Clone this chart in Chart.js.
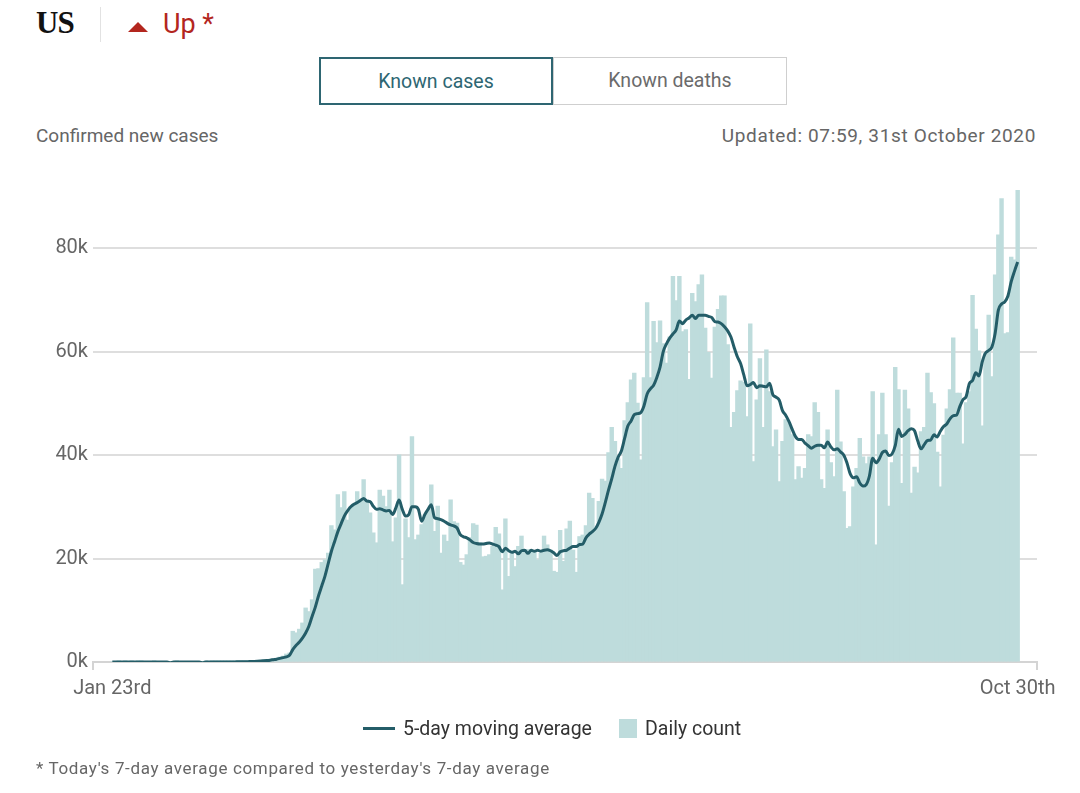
<!DOCTYPE html>
<html>
<head>
<meta charset="utf-8">
<script src="https://cdn.jsdelivr.net/npm/chart.js@4.4.1/dist/chart.umd.min.js"></script>
<style>
  html, body { margin: 0; padding: 0; background: #fff; }
  body { width: 1080px; height: 793px; position: relative; overflow: hidden; font-family: Roboto, "Noto Sans", sans-serif; }
  .abs { position: absolute; white-space: nowrap; }
  #title { left: 36px; top: 4px; font-family: "Liberation Serif", "DejaVu Serif", serif; font-weight: bold; font-size: 31px; line-height: 37px; color: #111; letter-spacing: -1px; }
  #divider { left: 100px; top: 7px; width: 1px; height: 35px; background: #e2e2e2; }
  #tri { left: 128px; top: 22px; width: 0; height: 0; border-left: 10.5px solid transparent; border-right: 10.5px solid transparent; border-bottom: 10px solid #b3261e; }
  #up { left: 163px; top: 9px; font-size: 27px; line-height: 31px; color: #b3261e; }
  .btn { top: 57px; height: 48px; width: 234px; box-sizing: border-box; text-align: center; line-height: 45px; font-size: 19.5px; }
  #btnCases { left: 319px; border: 2px solid #2e6672; color: #2e6672; }
  #btnDeaths { left: 553px; border: 1.5px solid #cfcfcf; color: #6b6b6b; }
  #subtitle { left: 36px; top: 124px; font-size: 19px; line-height: 23px; color: #666; }
  #updated { right: 44px; top: 124px; font-size: 19px; line-height: 23px; color: #666; letter-spacing: 0.65px; }
  #chart { position: absolute; left: 0; top: 0; }
  .legend-text { top: 717px; font-size: 19.5px; line-height: 24px; color: #333; }
  #legLine { left: 363px; top: 727px; width: 32px; height: 3px; background: #245d68; }
  #legBox { left: 619px; top: 719px; width: 18px; height: 19px; background: #bedcdc; }
  #note { left: 36px; top: 758px; font-size: 17px; line-height: 20px; color: #666; letter-spacing: 0.65px; }
</style>
</head>
<body>
<div id="title" class="abs">US</div>
<div id="divider" class="abs"></div>
<div id="tri" class="abs"></div>
<div id="up" class="abs">Up *</div>
<div id="btnCases" class="abs btn">Known cases</div>
<div id="btnDeaths" class="abs btn">Known deaths</div>
<div id="subtitle" class="abs">Confirmed new cases</div>
<div id="updated" class="abs">Updated: 07:59, 31st October 2020</div>
<canvas id="chart" width="1080" height="793"></canvas>
<div id="legLine" class="abs"></div>
<div class="abs legend-text" style="left:403px">5-day moving average</div>
<div id="legBox" class="abs"></div>
<div class="abs legend-text" style="left:645px">Daily count</div>
<div id="note" class="abs">* Today's 7-day average compared to yesterday's 7-day average</div>

<script>
// daily confirmed cases in thousands, one value per day from Jan 23rd to Oct 30th
const dailyCases = [
    0, 0, 0.001, 0, 0.002, 0, 0.001, 0, 0.001, 0.001,
    0, 0, 0, 0.001, 0, 0, 0, 0, 0, 0,
    0.001, 0, 0, 0, 0, 0, 0, 0, 0, 0.002,
    0, 0.004, 0.003, 0.005, 0.01, 0.01, 0.015, 0.02,
    // March
    0.02, 0.03, 0.03, 0.05, 0.03, 0.07, 0.1, 0.12, 0.25, 0.4, 0.3, 0.5, 0.6, 0.7, 0.9, 1.1, 1.5, 1.7,
    5.9, 5.6, 6.3, 7.5, 10.4, 9.7, 12.0, 17.9, 18.0, 19.2, 19.7, 21.0, 26.3, 25.5, 32.3, 29.8,
    32.9, 27.4, 30.0, 30.5, 32.9, 31.3, 35.2, 31.3, 28.8, 24.9, 23.0, 33.2, 32.0, 30.0, 33.2, 23.2,
    // late April - May
    27.8, 40.0, 14.9, 27.6, 24.0, 43.5, 23.6, 24.5, 26.5, 28.4, 29.0, 34.2, 25.2, 30.1, 21.0, 24.5,
    23.3, 31.3, 27.1, 26.8, 19.2, 18.7, 20.7, 24.0, 26.7, 26.4, 23.0, 20.3, 20.4, 20.7, 22.3, 26.0,
    24.7, 13.9, 27.6, 16.5, 21.1, 18.4, 22.3,
    // June
    24.3, 21.6, 21.7, 21.6, 21.5, 19.7, 21.0, 24.3, 22.6, 21.6, 17.5, 17.3, 25.4, 19.4, 25.7, 27.2,
    21.6, 17.3, 24.2, 24.5, 26.3, 32.6, 31.6, 25.5, 31.0, 35.3, 34.9, 40.4, 45.3, 42.6, 39.2, 37.4,
    // July - August
    46.6, 50.1, 54.5, 55.8, 50.0, 39.0, 54.9, 69.4, 54.9, 65.8,
    61.7, 65.9, 61.5, 57.7, 62.8, 74.5, 69.8, 74.5, 63.8, 64.2,
    54.6, 71.2, 69.6, 72.9, 74.8, 64.5, 59.8, 54.8, 64.7, 68.1,
    70.7, 70.7, 61.3, 45.3, 48.2, 52.4, 54.3, 54.0, 47.4, 65.3,
    38.7, 50.6, 58.6, 45.3, 60.3, 52.2, 41.6, 44.8, 34.8, 42.6,
    46.8, 46.0, 43.9, 35.2, 37.7, 35.5, 37.4,
    // late August - September
    43.9, 43.5, 50.1, 48.2, 35.2, 33.5, 44.8, 38.5, 35.8, 52.5,
    42.5, 32.9, 25.8, 26.1, 33.8, 37.4, 43.2, 39.6, 38.3, 39.6,
    52.2, 22.6, 43.9, 51.9, 43.9, 30.1, 38.5, 56.9, 52.6, 34.5,
    52.5, 48.9, 32.6, 37.6, 36.5, 44.5, 45.3, 55.8, 52.0,
    // October
    49.9, 40.5, 33.8, 43.8, 48.9, 52.6, 62.6, 51.9, 51.9, 42.1,
    50.1, 52.2, 70.8, 64.3, 60.1, 45.6, 59.7, 67.0, 55.1, 74.8,
    82.5, 89.5, 63.4, 63.6, 78.2, 77.7, 91.1
];

// 5-day moving average in thousands, same days
const movingAverage = [
    0, 0, 0, 0, 0, 0, 0, 0, 0, 0,
    0, 0, 0, 0, 0, 0, 0, 0, -0.15, 0,
    0, 0, 0, 0, 0, 0, 0, 0, -0.15, 0,
    0, 0, 0, 0, 0, 0.01, 0.01, 0.02,
    0.02, 0.03, 0.04, 0.05, 0.06, 0.08, 0.1, 0.13, 0.17, 0.22, 0.28, 0.35, 0.45, 0.55, 0.7, 0.85, 1.0, 1.3,
    2.4, 3.2, 3.8, 4.6, 5.6, 6.9, 8.8, 10.6, 12.8, 14.7,
    16.6, 19.0, 21.4, 23.3, 25.2, 26.7, 28.2, 29.2, 30.0, 30.5,
    30.8, 31.2, 31.6, 31.1, 31.0, 30.1, 29.5, 29.6, 29.4, 29.2,
    29.3, 28.5, 29.8, 31.3, 29.5, 28.2, 28.5, 30.0, 30.0, 29.5,
    27.2, 28.5, 29.5, 30.4, 27.9, 27.7, 27.5, 27.2, 26.8, 26.5,
    26.3, 25.9, 24.6, 24.2, 24.0, 23.6, 23.1, 22.9, 22.8, 22.8,
    22.9, 23.0, 22.8, 22.6, 22.3, 21.3, 22.0, 21.5, 21.2, 21.4, 20.9,
    21.5, 21.6, 21.0, 21.6, 21.4, 21.6, 21.4, 21.6, 21.7, 21.5,
    21.1, 20.6, 21.3, 21.5, 21.6, 22.0, 22.3, 22.3, 22.7, 22.8,
    24.0, 24.7, 25.2, 25.8, 27.0, 28.6, 30.8, 33.2, 35.4, 37.8,
    39.6, 40.8, 43.2, 45.6, 46.6, 47.8, 48.0, 48.2, 49.5,
    51.8, 52.8, 53.5, 55.0, 57.0, 60.0, 61.5, 62.6, 63.4, 64.2,
    65.9, 65.4, 66.1, 66.5, 67.0, 66.4, 67.0, 67.0, 67.0, 66.8,
    66.6, 65.8, 65.7, 65.4, 64.8, 64.0, 62.8, 60.8, 59.0, 57.7,
    55.5, 53.4, 53.6, 54.0, 53.0, 53.4, 53.3, 53.2, 53.9, 51.7,
    51.2, 50.6, 48.6, 47.7, 46.5, 45.0, 43.6, 43.0, 43.0, 42.3,
    41.8,
    41.3, 41.7, 41.9, 41.9, 41.4, 42.5, 41.6, 41.0, 41.2, 40.6,
    40.0, 38.5, 36.4, 35.6, 35.8, 34.6, 34.0, 34.3, 36.0, 39.4,
    38.5, 39.2, 40.5, 40.8, 39.9, 40.2, 41.8, 45.0, 43.6, 44.0,
    44.7, 45.1, 44.7, 42.7, 41.2, 42.0, 42.8, 42.9, 43.9, 43.5,
    44.6, 45.5, 46.0, 47.0, 47.6, 47.7, 49.3, 50.7, 51.3, 53.8,
    54.4, 55.9, 55.3, 58.0, 59.7, 60.2, 60.9, 63.5, 68.0, 69.2,
    69.6, 70.8, 73.5, 75.5, 77.3
];

const xTickLabels = ['Jan 23rd', 'Oct 30th'];
const yTickValues = [0, 20, 40, 60, 80];

const LINE_COLOR = '#245d68';
const BAR_COLOR = '#bedcdc';
const GRID_COLOR = '#dedede';

if (dailyCases.length !== movingAverage.length) {
    throw new Error('lengths differ: ' + dailyCases.length + ' / ' + movingAverage.length);
}

const lastDay = dailyCases.length - 1;
const xMin = -6, xMax = lastDay + 6;

Chart.defaults.font.family = "Roboto, 'Noto Sans', sans-serif";

new Chart(document.getElementById('chart'), {
    type: 'bar',
    data: {
        datasets: [
            {
                type: 'line',
                label: '5-day moving average',
                data: movingAverage.map((v, i) => ({ x: i, y: v })),
                borderColor: LINE_COLOR,
                borderWidth: 3,
                pointRadius: 0,
                cubicInterpolationMode: 'monotone',
                order: 0
            },
            {
                type: 'bar',
                label: 'Daily count',
                data: dailyCases.map((v, i) => ({ x: i, y: v })),
                backgroundColor: BAR_COLOR,
                barPercentage: 1,
                categoryPercentage: 1,
                inflateAmount: 0.6,   // close the hairline seams between days
                order: 1
            }
        ]
    },
    options: {
        responsive: false,
        animation: false,
        layout: { padding: { top: 186, right: 43, bottom: 71, left: 0 } },
        plugins: { legend: { display: false }, tooltip: { enabled: false } },
        scales: {
            x: {
                type: 'linear',
                min: xMin,
                max: xMax,
                offset: false,
                afterBuildTicks: s => { s.ticks = [xMin, 0, lastDay, xMax].map(v => ({ value: v })); },
                afterFit: s => { s.height = 60; },
                grid: {
                    offset: false,
                    drawOnChartArea: false,
                    drawTicks: true,
                    tickLength: 8,
                    lineWidth: 2,
                    color: c => (c.tick && (c.tick.value === xMin || c.tick.value === xMax)) ? '#d4d4d4' : 'rgba(0,0,0,0)'
                },
                border: { display: true, color: '#d4d4d4', width: 2 },
                ticks: {
                    autoSkip: false,
                    maxRotation: 0,
                    padding: 7,
                    color: '#666',
                    font: { size: 20 },
                    callback: v => v === 0 ? xTickLabels[0] : (v === lastDay ? xTickLabels[1] : '')
                }
            },
            y: {
                min: 0,
                max: 92,
                afterBuildTicks: s => { s.ticks = yTickValues.map(v => ({ value: v })); },
                afterFit: s => { s.width = 93; },
                grid: { color: GRID_COLOR, lineWidth: 2, drawTicks: false },
                border: { display: false },
                ticks: { padding: 5, color: '#666', font: { size: 20 }, callback: v => v + 'k' }
            }
        }
    }
});
</script>
</body>
</html>
